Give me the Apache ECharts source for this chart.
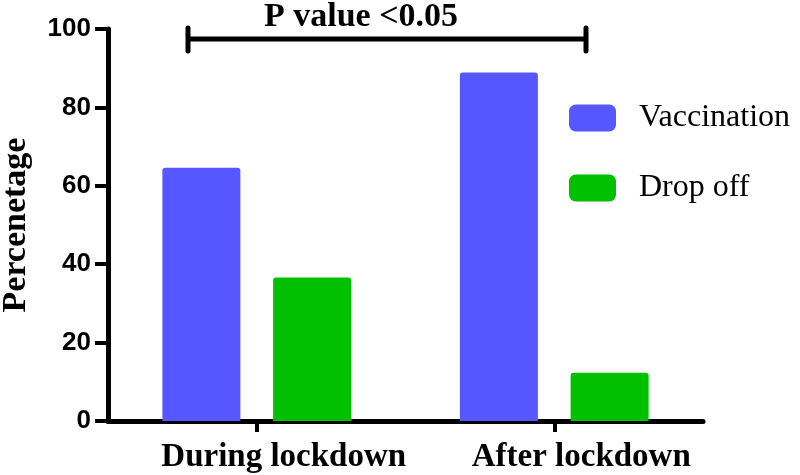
<!DOCTYPE html>
<html>
<head>
<meta charset="utf-8">
<script src="https://cdn.jsdelivr.net/npm/echarts@6/dist/echarts.min.js"></script>
<style>
  html, body { margin: 0; padding: 0; background: #fff; }
  #chart { width: 800px; height: 475px; }
</style>
</head>
<body>
<div id="chart"></div>
<script>
// values
var categories = ['During lockdown', 'After lockdown'];
var vaccination = [64.6, 88.9];
var dropOff = [36.6, 12.3];
var yTicks = [0, 20, 40, 60, 80, 100];

var serif = '"Liberation Serif", "DejaVu Serif", serif';
var sans = '"Liberation Sans", Arial, sans-serif';

var chart = echarts.init(document.getElementById('chart'));

var option = {
  animation: false,
  backgroundColor: '#fff',
  grid: { left: 108, right: 97, top: 29, bottom: 54, outerBoundsMode: 'none', containLabel: false },
  legend: {
    orient: 'vertical',
    left: 564,
    top: 97,
    itemWidth: 47,
    itemHeight: 27,
    itemGap: 38,
    icon: 'roundRect',
    data: ['Vaccination', 'Drop off'],
    textStyle: {
      fontFamily: serif,
      fontSize: 32,
      color: '#000',
      padding: [0, 0, 0, 18]
    }
  },
  xAxis: {
    type: 'category',
    data: categories,
    axisLine: { lineStyle: { color: '#000', width: 5 } },
    axisTick: { show: true, inside: false, alignWithLabel: true, length: 11, lineStyle: { color: '#000', width: 4 } },
    axisLabel: {
      interval: 0,
      fontFamily: serif,
      fontWeight: 'bold',
      fontSize: 33,
      color: '#000',
      margin: 20,
      padding: [0, 0, 0, 54]
    }
  },
  yAxis: {
    type: 'value',
    min: yTicks[0],
    max: yTicks[yTicks.length - 1],
    interval: 20,
    name: 'Percenetage',
    nameLocation: 'middle',
    nameGap: 75,
    nameTextStyle: {
      fontFamily: serif,
      fontWeight: 'bold',
      fontSize: 34,
      color: '#000'
    },
    splitLine: { show: false },
    axisLine: { show: true, lineStyle: { color: '#000', width: 5 } },
    axisTick: { show: true, inside: false, length: 13, lineStyle: { color: '#000', width: 4 } },
    axisLabel: {
      fontFamily: sans,
      fontWeight: 'bold',
      fontSize: 26,
      color: '#000',
      margin: 17
    }
  },
  series: [
    {
      name: 'Vaccination',
      type: 'bar',
      data: vaccination,
      barWidth: 78,
      barGap: '42%',
      itemStyle: { color: '#5757FF', borderRadius: [3, 3, 0, 0] }
    },
    {
      name: 'Drop off',
      type: 'bar',
      data: dropOff,
      barWidth: 78,
      itemStyle: { color: '#00C000', borderRadius: [3, 3, 0, 0] }
    }
  ],
  graphic: [
    {
      type: 'text',
      left: 264,
      top: 0,
      style: {
        text: 'P value <0.05',
        font: 'bold 34px ' + serif,
        fill: '#000'
      }
    },
    {
      type: 'line',
      shape: { x1: 188, y1: 39, x2: 586, y2: 39 },
      style: { stroke: '#000', lineWidth: 5 }
    },
    {
      type: 'line',
      shape: { x1: 188, y1: 28, x2: 188, y2: 51 },
      style: { stroke: '#000', lineWidth: 5, lineCap: 'round' }
    },
    {
      type: 'line',
      shape: { x1: 586, y1: 28, x2: 586, y2: 51 },
      style: { stroke: '#000', lineWidth: 5, lineCap: 'round' }
    }
  ]
};

chart.setOption(option);
</script>
</body>
</html>
